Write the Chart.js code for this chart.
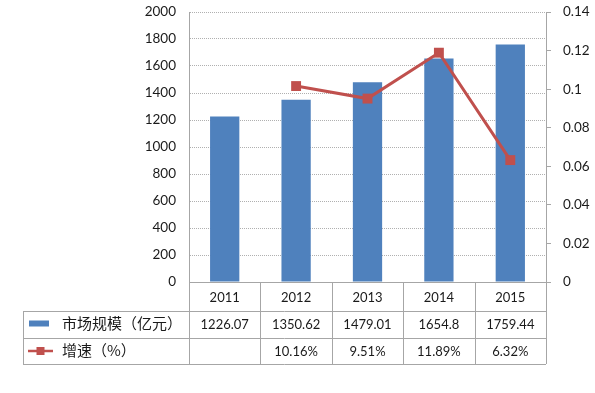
<!DOCTYPE html>
<html>
<head>
<meta charset="utf-8">
<script src="https://cdn.jsdelivr.net/npm/chart.js@4/dist/chart.umd.min.js"></script>
<style>
html,body{margin:0;padding:0;background:#fff;}
canvas{display:block;}
</style>
</head>
<body>
<canvas id="c" width="595" height="393"></canvas>
<script>
const categories = ['2011', '2012', '2013', '2014', '2015'];
const marketSize = [1226.07, 1350.62, 1479.01, 1654.8, 1759.44];
const growthRate = [null, 0.1016, 0.0951, 0.1189, 0.0632];
const growthText = ['', '10.16%', '9.51%', '11.89%', '6.32%'];
const seriesNames = ['市场规模（亿元）', '增速（%）'];
const leftTicks = [0, 200, 400, 600, 800, 1000, 1200, 1400, 1600, 1800, 2000];
const rightTicks = [0, 0.02, 0.04, 0.06, 0.08, 0.1, 0.12, 0.14];

const BLUE = '#4F81BD';
const RED = '#C0504D';
const LINE = '#A6A6A6';
const TEXT = '#1a1a1a';
const NUMFONT = '13px Lato, "Liberation Sans", sans-serif';
const CJKFONT = '15px "Noto Sans CJK SC", sans-serif';

const tablePlugin = {
  id: 'dataTable',
  afterDraw(chart) {
    const ctx = chart.ctx;
    const area = chart.chartArea;
    const xs = chart.scales.x;
    const n = categories.length;
    const colW = (area.right - area.left) / n;
    const top = area.bottom;
    const r1 = top + 29, r2 = top + 56, r3 = top + 82;
    const tableLeft = 23;
    const h = v => Math.round(v) + 0.5;
    ctx.save();
    ctx.strokeStyle = LINE;
    ctx.lineWidth = 1;
    ctx.beginPath();
    ctx.moveTo(area.left, h(top)); ctx.lineTo(area.right, h(top));
    [r1, r2, r3].forEach(y => { ctx.moveTo(tableLeft, h(y)); ctx.lineTo(area.right, h(y)); });
    for (let i = 0; i <= n; i++) {
      const x = h(area.left + i * colW);
      ctx.moveTo(x, top); ctx.lineTo(x, r3);
    }
    ctx.moveTo(h(tableLeft), r1); ctx.lineTo(h(tableLeft), r3);
    ctx.stroke();

    ctx.fillStyle = TEXT;
    ctx.font = NUMFONT;
    ctx.textAlign = 'center';
    ctx.textBaseline = 'middle';
    categories.forEach((c, i) => {
      const cx = xs.getPixelForValue(i);
      ctx.fillText(c, cx, (top + r1) / 2 + 1);
      ctx.fillText(String(marketSize[i]), cx, (r1 + r2) / 2);
      ctx.fillText(growthText[i], cx, (r2 + r3) / 2 + 1);
    });

    ctx.fillStyle = BLUE;
    ctx.fillRect(29, (r1 + r2) / 2 - 4, 20, 6);
    const ly = (r2 + r3) / 2;
    ctx.strokeStyle = RED;
    ctx.lineWidth = 2.5;
    ctx.beginPath();
    ctx.moveTo(28, ly); ctx.lineTo(53, ly);
    ctx.stroke();
    ctx.fillStyle = RED;
    ctx.fillRect(36.5, ly - 4, 8, 8);

    ctx.fillStyle = TEXT;
    ctx.font = CJKFONT;
    ctx.textAlign = 'left';
    ctx.fillText(seriesNames[0], 62, (r1 + r2) / 2 - 1);
    ctx.fillText(seriesNames[1], 62, ly - 1);
    ctx.restore();
  }
};

function fixFit(width) {
  return function (s) {
    s.width = width;
    s.paddingTop = 0;
    s.paddingBottom = 0;
  };
}

new Chart(document.getElementById('c'), {
  data: {
    labels: categories,
    datasets: [
      {
        type: 'line',
        label: seriesNames[1],
        data: growthRate,
        yAxisID: 'y1',
        borderColor: RED,
        backgroundColor: RED,
        borderWidth: 3,
        pointStyle: 'rect',
        pointRadius: 7,
        pointBorderWidth: 0,
        pointBackgroundColor: RED,
        tension: 0,
        order: 0
      },
      {
        type: 'bar',
        label: seriesNames[0],
        data: marketSize,
        yAxisID: 'y',
        backgroundColor: BLUE,
        borderWidth: 0,
        barPercentage: 0.41,
        categoryPercentage: 1,
        order: 1
      }
    ]
  },
  options: {
    responsive: false,
    animation: false,
    layout: { padding: { left: 0, right: 0, top: 12, bottom: 111 } },
    plugins: { legend: { display: false }, tooltip: { enabled: false } },
    scales: {
      x: { display: false, offset: true },
      y: {
        position: 'left',
        min: 0, max: 2000,
        afterFit: fixFit(189),
        afterBuildTicks(s) { s.ticks = leftTicks.map(v => ({ value: v })); },
        ticks: {
          padding: 13,
          color: TEXT,
          font: { family: 'Lato, "Liberation Sans", sans-serif', size: 13.5 },
          callback: v => String(v)
        },
        grid: { color: '#B0B0B0', drawTicks: false, lineWidth: 1 },
        border: { display: true, color: LINE, dash: [1, 1] }
      },
      y1: {
        position: 'right',
        min: 0, max: 0.14,
        afterFit: fixFit(49),
        afterBuildTicks(s) { s.ticks = rightTicks.map(v => ({ value: v })); },
        ticks: {
          padding: 12,
          color: TEXT,
          font: { family: 'Lato, "Liberation Sans", sans-serif', size: 13.5 },
          callback: v => String(+v.toFixed(2))
        },
        grid: { drawOnChartArea: false, drawTicks: true, tickLength: 5, color: LINE },
        border: { display: true, color: LINE }
      }
    }
  },
  plugins: [tablePlugin]
});
</script>
</body>
</html>
